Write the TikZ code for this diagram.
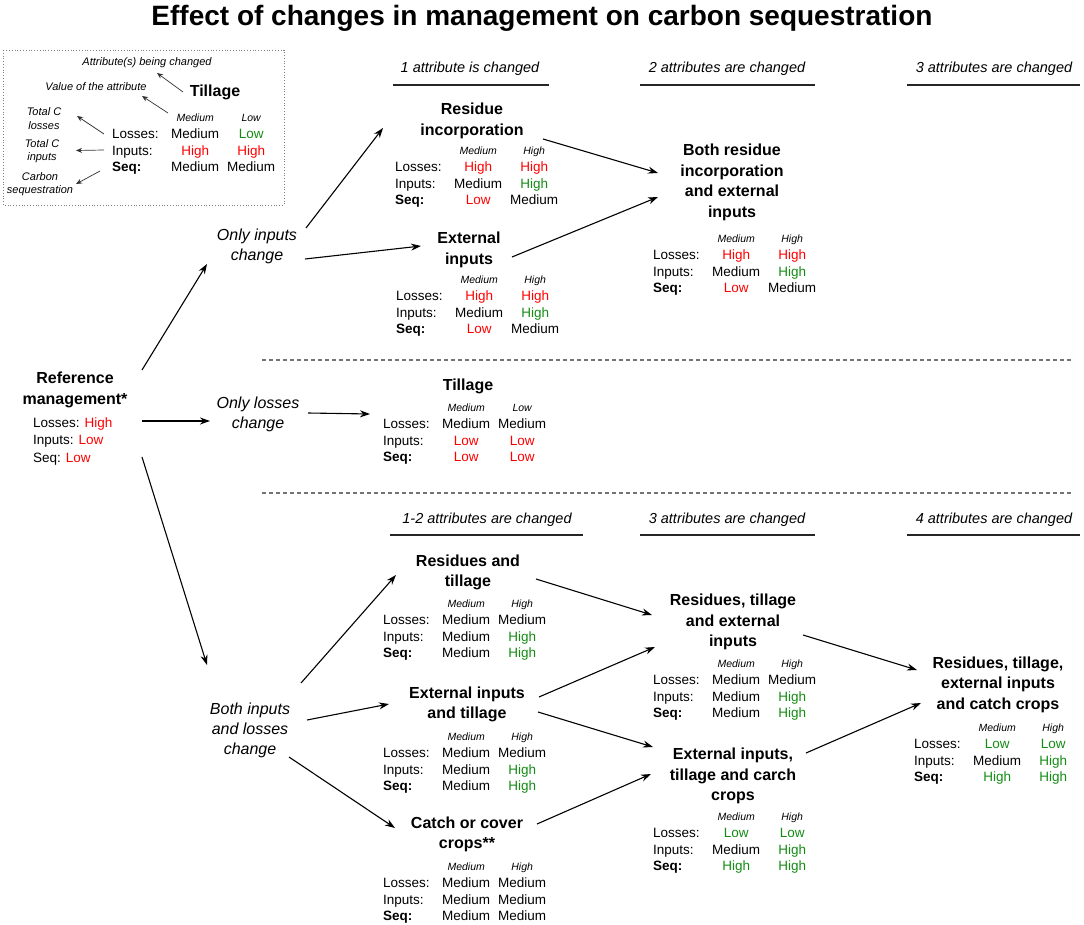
\documentclass[tikz,border=0pt]{standalone}
\usepackage{fontspec}
\setmainfont{Liberation Sans}
\usepackage{array}
\usetikzlibrary{arrows.meta,calc}
\definecolor{vred}{HTML}{FF0000}
\definecolor{vgreen}{HTML}{148C14}
\newcommand{\rd}[1]{\textcolor{vred}{#1}}
\newcommand{\gn}[1]{\textcolor{vgreen}{#1}}
\newcommand{\hdrit}[1]{{\fontsize{10.5}{12}\selectfont\itshape #1}}
\newcommand{\vtbl}[8]{\begin{tabular}{@{}p{55pt}@{}>{\centering}p{56pt}@{}>{\centering\arraybackslash}p{56pt}@{}}
 & \hdrit{#1} & \hdrit{#2}\\
Losses: & #3 & #4\\
Inputs: & #5 & #6\\
\textbf{Seq:} & #7 & #8
\end{tabular}}
\newcommand{\conarrow}[4]{\draw[conn] ($(#1)+(#2)$) -- ($(#3)+(#4)$);}
\newcommand{\legarrow}[4]{\draw[legarr] ($(#1)+(#2)$) -- ($(#3)+(#4)$);}
\tikzset{
  ttl/.style={font=\fontsize{16}{20.5}\selectfont\bfseries, align=center, inner sep=0pt},
  lab/.style={font=\fontsize{16}{20}\selectfont\itshape, align=center, inner sep=0pt},
  sec/.style={font=\fontsize{14.5}{17}\selectfont\itshape, inner sep=0pt},
  leg/.style={font=\fontsize{11}{13.3}\selectfont\itshape, align=center, inner sep=0pt},
  tbl/.style={anchor=north west, inner sep=0pt, font=\fontsize{13.5}{16.8}\selectfont},
  conn/.style={-{Stealth[length=10pt,width=7pt]}, line width=1.1pt},
  legarr/.style={-{Stealth[length=6pt,width=5pt]}, line width=0.7pt, black!80},
  rulel/.style={line width=1.5pt, black!85},
  sepline/.style={dash pattern=on 4pt off 3pt, line width=1.3pt, black!55},
  legbox/.style={dotted, line width=0.8pt, black!50}
}
\begin{document}
\begin{tikzpicture}[x=1pt,y=-1pt]
\fill[white] (0,0) rectangle (1084,925);
\useasboundingbox (0,0) rectangle (1084,925);

% title
\node[font=\fontsize{28}{32}\selectfont\bfseries, inner sep=0pt] (title) at (542,18) {Effect of changes in management on carbon sequestration};

% legend
\draw[legbox] (3,50) rectangle (284,205);
\node[leg] (legattr) at (147,63) {Attribute(s) being changed};
\node[leg] (legvalue) at (96,87) {Value of the attribute};
\node[ttl] (legtill) at (215,92) {Tillage};
\node[leg] (leglosses) at (44,118.5) {Total C\\losses};
\node[leg] (leginputs) at (42,151) {Total C\\inputs};
\node[leg] (legseq) at (40,184.5) {Carbon\\sequestration};
\node[tbl] (legtab) at (112,109.5) {\vtbl{Medium}{Low}{Medium}{\gn{Low}}{\rd{High}}{\rd{High}}{Medium}{Medium}};
\legarrow{legtill}{-32,0}{legattr}{10,10}
\legarrow{legtab.north west}{56,3.5}{legvalue}{46,9}
\legarrow{legtab.north west}{-8,24.5}{leglosses}{33,-2.5}
\legarrow{legtab.north west}{-8,40.5}{leginputs}{34,-0.5}
\legarrow{legtab.north west}{-12,61.5}{legseq}{36,-0.5}

% section headers
\node[sec] (h1) at (470,69) {1 attribute is changed};
\node[sec] (h2) at (727,69) {2 attributes are changed};
\node[sec] (h3) at (994,69) {3 attributes are changed};
\draw[rulel] (393,85) -- (549,85);
\draw[rulel] (640,85) -- (815,85);
\draw[rulel] (907,85) -- (1080,85);
\node[sec] (h4) at (487,520) {1-2 attributes are changed};
\node[sec] (h5) at (727,520) {3 attributes are changed};
\node[sec] (h6) at (994,520) {4 attributes are changed};
\draw[rulel] (390,535) -- (583,535);
\draw[rulel] (640,535) -- (815,535);
\draw[rulel] (907,535) -- (1080,535);

% separators
\draw[sepline] (262,360) -- (1072,360);
\draw[sepline] (262,493) -- (1072,493);

% reference
\node[ttl] (ref) at (75,390) {Reference\\management*};
\node[anchor=north west, inner sep=0pt, font=\fontsize{13.5}{17.5}\selectfont] (reftab) at (33,414.75)
  {\begin{tabular}{@{}l@{}}Losses: \rd{High}\\ Inputs: \rd{Low}\\ Seq: \rd{Low}\end{tabular}};

% italic labels
\node[lab] (oin) at (257,246) {Only inputs\\change};
\node[lab] (olo) at (258,414) {Only losses\\change};
\node[lab] (bil) at (250,730.5) {Both inputs\\and losses\\change};

% top block
\node[ttl] (inc) at (472,121) {Residue\\incorporation};
\node[tbl] (inctab) at (395,142.5) {\vtbl{Medium}{High}{\rd{High}}{\rd{High}}{Medium}{\gn{High}}{\rd{Low}}{Medium}};
\node[ttl] (ext) at (469,250) {External\\inputs};
\node[tbl] (exttab) at (396,271.5) {\vtbl{Medium}{High}{\rd{High}}{\rd{High}}{Medium}{\gn{High}}{\rd{Low}}{Medium}};
\node[ttl] (both) at (732,182.5) {Both residue\\incorporation\\and external\\inputs};
\node[tbl] (bothtab) at (653,230.5) {\vtbl{Medium}{High}{\rd{High}}{\rd{High}}{Medium}{\gn{High}}{\rd{Low}}{Medium}};

% middle block
\node[ttl] (til) at (468,386) {Tillage};
\node[tbl] (tiltab) at (383,399.5) {\vtbl{Medium}{Low}{Medium}{Medium}{\rd{Low}}{\rd{Low}}{\rd{Low}}{\rd{Low}}};

% bottom block
\node[ttl] (rt) at (468,572.5) {Residues and\\tillage};
\node[tbl] (rttab) at (383,595.5) {\vtbl{Medium}{High}{Medium}{Medium}{Medium}{\gn{High}}{Medium}{\gn{High}}};
\node[ttl] (et) at (467,704.5) {External inputs\\and tillage};
\node[tbl] (ettab) at (383,728.5) {\vtbl{Medium}{High}{Medium}{Medium}{Medium}{\gn{High}}{Medium}{\gn{High}}};
\node[ttl] (cc) at (467,834.5) {Catch or cover\\crops**};
\node[tbl] (cctab) at (383,858.5) {\vtbl{Medium}{High}{Medium}{Medium}{Medium}{Medium}{Medium}{Medium}};
\node[ttl] (rte) at (733,622) {Residues, tillage\\and external\\inputs};
\node[tbl] (rtetab) at (653,655.5) {\vtbl{Medium}{High}{Medium}{Medium}{Medium}{\gn{High}}{Medium}{\gn{High}}};
\node[ttl] (etc) at (733,776) {External inputs,\\tillage and carch\\crops};
\node[tbl] (etctab) at (653,808.5) {\vtbl{Medium}{High}{\gn{Low}}{\gn{Low}}{Medium}{\gn{High}}{\gn{High}}{\gn{High}}};
\node[ttl] (fin) at (998,684.5) {Residues, tillage,\\external inputs\\and catch crops};
\node[tbl] (fintab) at (914,719.5) {\vtbl{Medium}{High}{\gn{Low}}{\gn{Low}}{Medium}{\gn{High}}{\gn{High}}{\gn{High}}};

% connectors
\conarrow{ref}{67,-20}{oin}{-50,18}
\conarrow{ref}{67,31}{olo}{-48,7}
\conarrow{ref}{67,67}{bil}{-43,-65.5}
\conarrow{oin}{49,-18}{inc}{-89,7}
\conarrow{oin}{48,13}{ext}{-48,-4}
\conarrow{olo}{50,-1}{til}{-98,28}
\conarrow{inc}{71,18}{both}{-74,-9.5}
\conarrow{ext}{43,7}{both}{-74,14.5}
\conarrow{bil}{51,-47.5}{rt}{-72,2.5}
\conarrow{bil}{57,-10.5}{et}{-78,-0.5}
\conarrow{bil}{39,26.5}{cc}{-72,-6.5}
\conarrow{rt}{68,6.5}{rte}{-81,-7}
\conarrow{et}{72,-7.5}{rte}{-78,25}
\conarrow{et}{71,7.5}{etc}{-80,-29}
\conarrow{cc}{70,-10.5}{etc}{-82,-2}
\conarrow{rte}{70,13}{fin}{-81,-14.5}
\conarrow{etc}{73,-23}{fin}{-77,18.5}
\end{tikzpicture}
\end{document}
